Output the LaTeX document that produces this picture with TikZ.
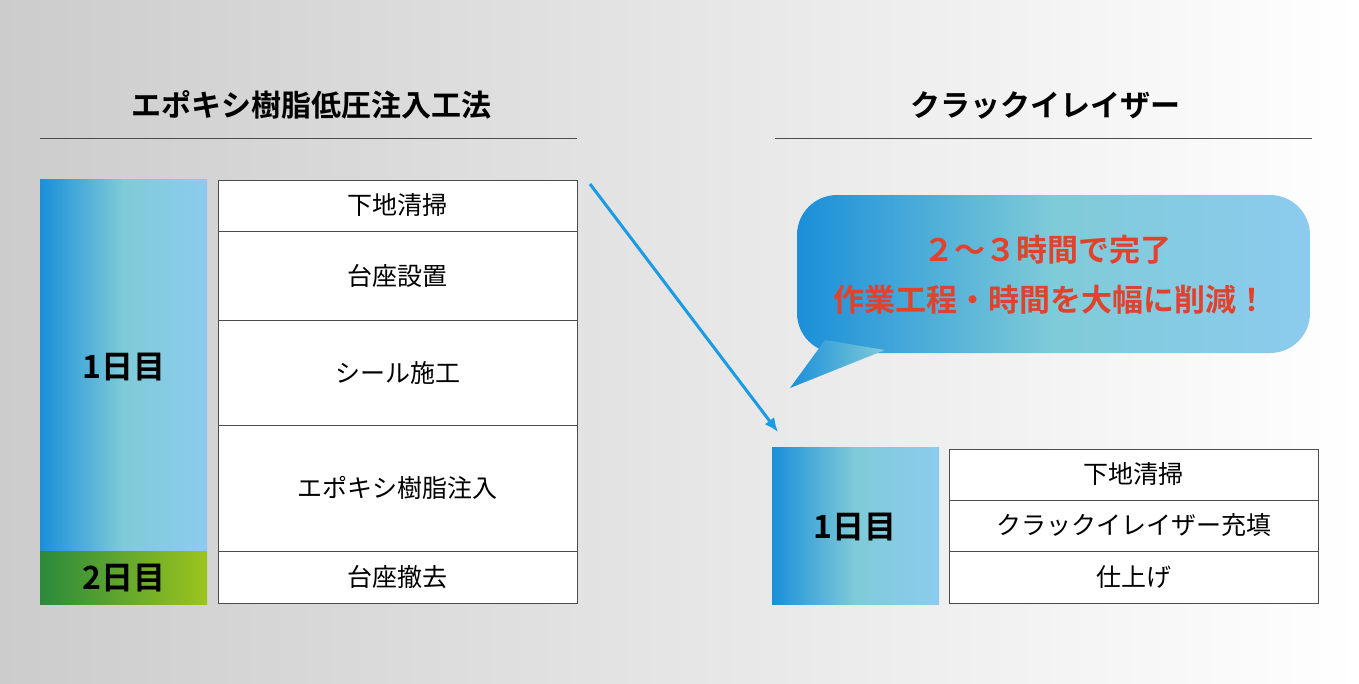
\documentclass[tikz,border=0pt]{standalone}
\usetikzlibrary{arrows.meta}
\usepackage{fontspec}
\setmainfont{Noto Sans CJK JP}
\newfontfamily\jpb{Noto Sans CJK JP Bold}
\definecolor{bA}{HTML}{1A8FD9}
\definecolor{bB}{HTML}{7FCBD8}
\definecolor{bC}{HTML}{8CCBEE}
\definecolor{gA}{HTML}{2A8A3C}
\definecolor{gB}{HTML}{9CC41E}
\definecolor{rd}{HTML}{E2412C}
\definecolor{ar}{HTML}{1B9BE2}
\tikzset{x=1pt,y=-1pt,
 cell/.style={draw=black!70,line width=0.8pt,fill=white},
 ctext/.style={font=\fontsize{25}{28}\selectfont},
 ttl/.style={font=\jpb\fontsize{30}{34}\selectfont},
 day/.style={font=\jpb\fontsize{32}{36}\selectfont}}
\begin{document}
\begin{tikzpicture}
\useasboundingbox (0,0) rectangle (1359,683);
\shade[left color=black!20,right color=white] (0,0) rectangle (1359,683);
\node[ttl] (t1) at (311,105) {エポキシ樹脂低圧注入工法};
\node[ttl] (t2) at (1045,105) {クラックイレイザー};
\draw[black!70,line width=0.8pt] (40,138) -- (577,138);
\draw[black!70,line width=0.8pt] (775,138) -- (1312,138);
% left bars
\shade[left color=bA,right color=bC,middle color=bB] (40,179) rectangle (207,551);
\shade[left color=gA,right color=gB] (40,551) rectangle (207,604);
\node[day] (d1) at (124,367) {1日目};
\node[day] (d2) at (124,578) {2日目};
\foreach \a/\b/\t [count=\i] in {180/231/下地清掃,231/320/台座設置,320/425/シール施工,425/551/エポキシ樹脂注入,551/603/台座撤去}{
  \draw[cell] (218,\a) rectangle (577,\b);
  \node[ctext] (L\i) at (397.5,{(\a+\b)/2}) {\t};
}
% bubble
\shade[left color=bA,right color=bC,middle color=bB,rounded corners=40pt]
  (797,195) rectangle (1310,353);
\shade[left color=bA,right color=bB] (825,340) -- (790,388) -- (885,350) -- cycle;
\node[font=\jpb\fontsize{31}{34}\selectfont,text=rd] (m1) at (1047,250) {２～３時間で完了};
\node[font=\jpb\fontsize{31}{34}\selectfont,text=rd] (m2) at (1050,300) {作業工程・時間を大幅に削減！};
% right
\shade[left color=bA,right color=bC,middle color=bB] (772,447) rectangle (939,604);
\node[day] (d3) at (855,527) {1日目};
\foreach \a/\b/\t [count=\i] in {449/500/下地清掃,500/551/クラックイレイザー充填,551/603/仕上げ}{
  \draw[cell] (949,\a) rectangle (1318,\b);
  \node[ctext] (R\i) at (1133.5,{(\a+\b)/2}) {\t};
}
\coordinate (s) at (590,184);
\coordinate (e) at (778,432);
\draw[ar,line width=3pt,-{Latex[length=14pt,width=12pt]}] (s) -- (e);
\end{tikzpicture}
\end{document}
